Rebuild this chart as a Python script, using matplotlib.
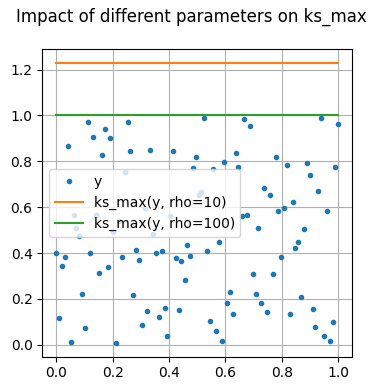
import matplotlib
matplotlib.use("Agg")
import matplotlib.pyplot as plt
import numpy as np

# sample positions
x_vals = [
    0.000, 0.010, 0.020, 0.030, 0.040, 0.051, 0.061, 0.071, 0.081, 0.091,
    0.101, 0.111, 0.121, 0.131, 0.141, 0.152, 0.162, 0.172, 0.182, 0.192,
    0.202, 0.212, 0.222, 0.232, 0.242, 0.253, 0.263, 0.273, 0.283, 0.293,
    0.303, 0.313, 0.323, 0.333, 0.343, 0.354, 0.364, 0.374, 0.384, 0.394,
    0.404, 0.414, 0.424, 0.434, 0.444, 0.455, 0.465, 0.475, 0.485, 0.495,
    0.505, 0.515, 0.525, 0.535, 0.545, 0.556, 0.566, 0.576, 0.586, 0.596,
    0.606, 0.616, 0.626, 0.636, 0.646, 0.657, 0.667, 0.677, 0.687, 0.697,
    0.707, 0.717, 0.727, 0.737, 0.747, 0.758, 0.768, 0.778, 0.788, 0.798,
    0.808, 0.818, 0.828, 0.838, 0.848, 0.859, 0.869, 0.879, 0.889, 0.899,
    0.909, 0.919, 0.929, 0.939, 0.949, 0.960, 0.970, 0.980, 0.990, 1.000,
]

y_vals = [
    0.400, 0.117, 0.343, 0.383, 0.865, 0.013, 0.567, 0.511, 0.474, 0.222,
    0.074, 0.972, 0.400, 0.904, 0.567, 0.313, 0.826, 0.943, 0.339, 0.900,
    0.491, 0.009, 0.540, 0.383, 0.752, 0.970, 0.845, 0.217, 0.413, 0.370,
    0.087, 0.596, 0.148, 0.849, 0.483, 0.400, 0.122, 0.409, 0.161, 0.039,
    0.561, 0.845, 0.378, 0.152, 0.365, 0.283, 0.435, 0.387, 0.770, 0.817,
    0.653, 0.668, 0.990, 0.409, 0.104, 0.765, 0.061, 0.448, 0.017, 0.796,
    0.183, 0.230, 0.135, 0.835, 0.774, 0.562, 0.986, 0.565, 0.952, 0.309,
    0.222, 0.509, 0.183, 0.683, 0.143, 0.652, 0.309, 0.817, 0.583, 0.383,
    0.596, 0.783, 0.135, 0.622, 0.422, 0.448, 0.209, 0.504, 0.791, 0.739,
    0.157, 0.078, 0.670, 0.990, 0.039, 0.583, 0.017, 0.100, 0.774, 0.961,
]

rho_values = [10, 100]


def ks_max(y, rho):
    """ Kreisselmeier-Steinhauser smooth maximum of y. """
    y = np.asarray(y)
    y_max = y.max()
    return y_max + np.log(np.sum(np.exp(rho * (y - y_max)))) / rho


x = np.array(x_vals)
y = np.array(y_vals)

fig = plt.figure(figsize=(3.77, 3.91), dpi=100)
fig.suptitle('Impact of different parameters on ks_max', x=0.508)
ax = fig.add_axes([0.112, 0.0877, 0.8225, 0.7863])

ax.plot(x, y, '.', label='y')
for rho in rho_values:
    ks = ks_max(y, rho)
    ax.plot(x, np.ones_like(x) * ks, label='ks_max(y, rho={})'.format(rho))

ax.grid(True)
ax.legend(loc='center left')

fig.savefig('out.png', dpi=100)
